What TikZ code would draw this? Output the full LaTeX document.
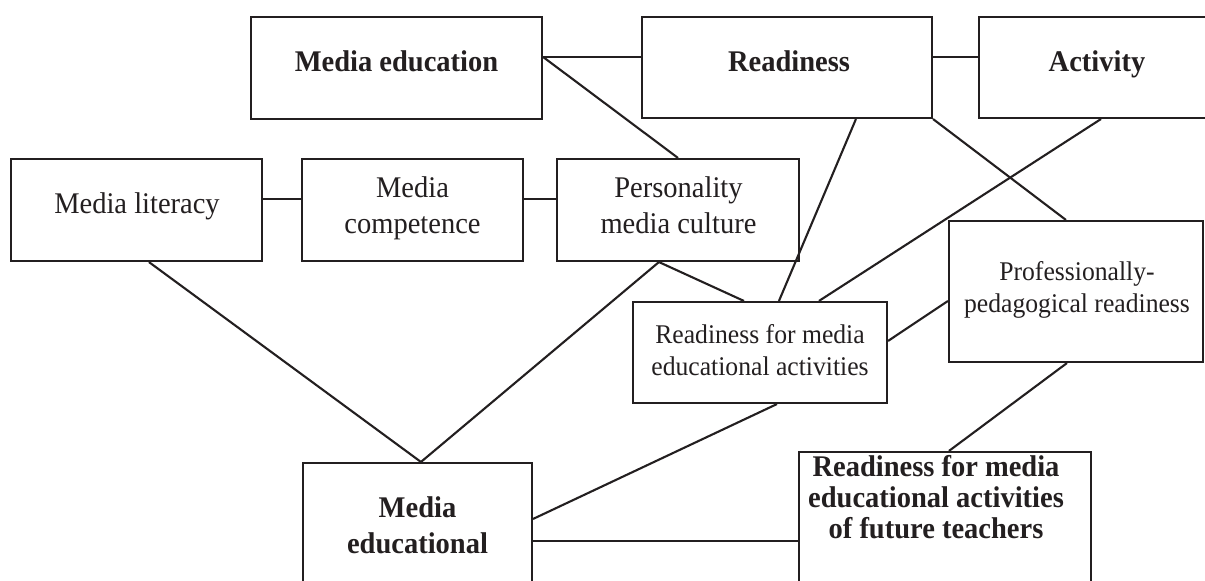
\documentclass[tikz,border=0pt]{standalone}
\usepackage{fontspec}
\setmainfont{Liberation Serif}[FakeStretch=0.95]
\usetikzlibrary{calc}
\definecolor{ink}{RGB}{35,31,32}
\tikzset{
  box/.style={draw=ink, line width=2.1pt, inner sep=0pt, rectangle},
  link/.style={draw=ink, line width=2.1pt},
  lbl/.style={text=ink, align=center, inner sep=0pt},
  big/.style={lbl, font=\fontsize{30}{36}\selectfont},
  small/.style={lbl, font=\fontsize{27}{32}\selectfont},
  bold/.style={lbl, font=\fontsize{30}{36}\selectfont\bfseries},
}
\begin{document}
\begin{tikzpicture}[x=1pt, y=-1pt]
\useasboundingbox (0,0) rectangle (1205,581);
\clip (0,0) rectangle (1205,581);
\fill[white] (0,0) rectangle (1205,581);

% boxes
\node[box, minimum width=291pt, minimum height=102pt] (medu)  at (396.5,68)  {};
\node[box, minimum width=290pt, minimum height=101pt] (ready) at (787,67.5)  {};
\node[box, minimum width=234pt, minimum height=101pt] (act)   at (1096,67.5) {};
\node[box, minimum width=251pt, minimum height=102pt] (mlit)  at (136.5,210) {};
\node[box, minimum width=221pt, minimum height=102pt] (mcomp) at (412.5,210) {};
\node[box, minimum width=242pt, minimum height=102pt] (pers)  at (678,210)   {};
\node[box, minimum width=254pt, minimum height=141pt] (prof)  at (1076,291.5) {};
\node[box, minimum width=254pt, minimum height=101pt] (rfm)   at (760,352.5) {};
\node[box, minimum width=229pt, minimum height=160pt] (medl)  at (417.5,543) {};
\node[box, minimum width=292pt, minimum height=160pt] (rft)   at (945,532)   {};

% texts
\node[bold]  (medu-t)  at (396.5,60.8) {Media education};
\node[bold]  (ready-t) at (789,60.8)   {Readiness};
\node[bold]  (act-t)   at (1097,64)    {Activity};
\node[big]   (mlit-t)  at (137,206)    {Media literacy};
\node[big]   (mcomp-t) at (412.5,208)  {Media\\competence};
\node[big]   (pers-t)  at (678.5,204.8) {Personality\\media culture};
\node[small] (rfm-t)   at (760,349.8)  {Readiness for media\\educational activities};
\node[small] (prof-t)  at (1077,289.7) {Professionally-\\pedagogical readiness};
\node[bold]  (medl-t)  at (417.5,524.8) {Media\\educational};
\node[bold, font=\fontsize{30}{31}\selectfont\bfseries] (rft-t) at (936,496.8)
  {Readiness for media\\educational activities\\of future teachers};

% connectors
\draw[link] ($(medu.north east)+(0,41)$) -- ($(ready.north west)+(0,41)$);
\draw[link] ($(ready.north east)+(0,41)$) -- ($(act.north west)+(0,41)$);
\draw[link] ($(medu.north east)+(0,41)$) -- (pers.north);
\draw[link] (ready.south east) -- ($(prof.north west)+(118,0)$);
\draw[link] ($(ready.south west)+(215,0)$) -- ($(rfm.north west)+(147,0)$);
\draw[link] ($(act.south west)+(123,0)$) -- ($(rfm.north west)+(187,0)$);
\draw[link] ($(pers.south west)+(103,0)$) -- ($(rfm.north west)+(112,0)$);
\draw[link] ($(pers.south west)+(103,0)$) -- ($(medl.north west)+(119,0)$);
\draw[link] ($(mlit.south west)+(139,0)$) -- ($(medl.north west)+(119,0)$);
\draw[link] ($(mlit.north east)+(0,41)$) -- ($(mcomp.north west)+(0,41)$);
\draw[link] ($(mcomp.north east)+(0,41)$) -- ($(pers.north west)+(0,41)$);
\draw[link] ($(rfm.north east)+(0,40)$) -- ($(prof.north west)+(0,81)$);
\draw[link] ($(rfm.south west)+(145,0)$) -- ($(medl.north east)+(0,57)$);
\draw[link] ($(medl.north east)+(0,79)$) -- ($(rft.north west)+(0,90)$);
\draw[link] ($(prof.south west)+(119,0)$) -- ($(rft.north west)+(151,0)$);
\end{tikzpicture}
\end{document}
